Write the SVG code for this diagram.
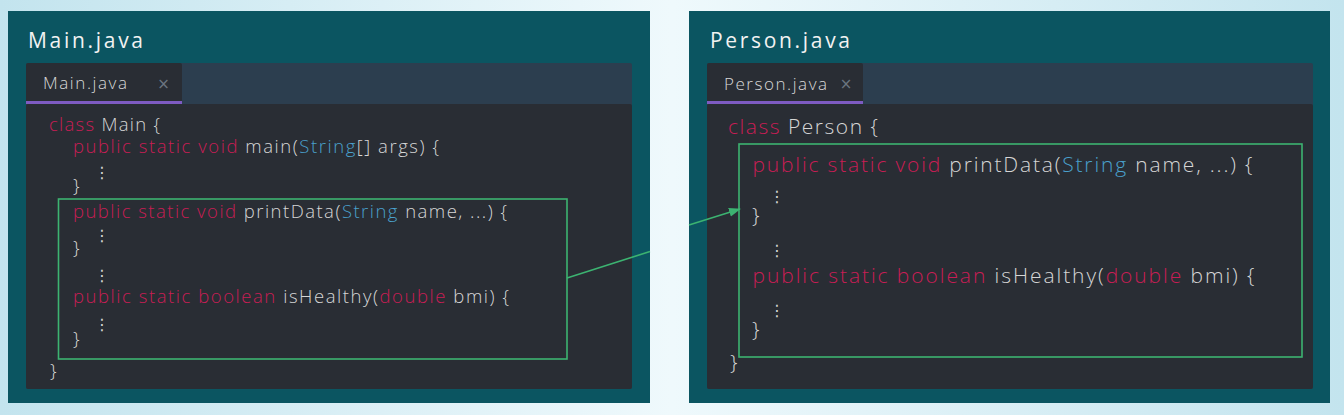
<svg xmlns="http://www.w3.org/2000/svg" width="1344" height="415" viewBox="0 0 1344 415">
<defs>
<linearGradient id="bg" x1="0" y1="0" x2="1" y2="0">
<stop offset="0" stop-color="#c3e4ee"/>
<stop offset="0.5" stop-color="#eff9fc"/>
<stop offset="1" stop-color="#c3e4ee"/>
</linearGradient>
<marker id="arrow" markerWidth="12" markerHeight="10" refX="11" refY="5" orient="auto" markerUnits="userSpaceOnUse">
<path d="M0,0.5 L12,5 L0,9.5 Z" fill="#3cb371"/>
</marker>
<style>
.panel{fill:#0b5561}
.title{font-family:"Open Sans","Liberation Sans",sans-serif;font-size:21px;fill:#f2f2f2}
.bar{fill:#2c3e4f}
.code-bg{fill:#292d34}
.tab{fill:#292d34}
.uline{fill:#7e5bc2}
.tabtxt{font-family:"Open Sans","Liberation Sans",sans-serif;font-size:17px;fill:#d8d8d8;font-weight:300}
.x{font-family:"DejaVu Sans",sans-serif;font-size:15px;fill:#6b7580;text-anchor:middle}
.code{font-family:"Open Sans","Liberation Sans",sans-serif;font-weight:300;fill:#d6d6d6}
.l{font-size:18.5px}
.r{font-size:21px}
.k{fill:#c81d55}
.t{fill:#4aa0cc}
.dots{font-family:"DejaVu Sans",sans-serif;fill:#d6d6d6;text-anchor:middle;font-size:16px}
.box{fill:none;stroke:#3cb371;stroke-width:1.6}
.conn{fill:none;stroke:#3cb371;stroke-width:1.6}
</style>
</defs>
<rect x="0" y="0" width="1344" height="415" fill="url(#bg)"/>

<g id="main-panel">
<rect class="panel" x="8" y="11" width="642" height="392"/>
<text class="title" x="28" y="48" textLength="115">Main.java</text>
<rect class="bar" x="26" y="63" width="606" height="326" rx="2"/>
<rect class="code-bg" x="26" y="104" width="606" height="285" rx="2"/>
<rect class="tab" x="26" y="63" width="156" height="41" rx="2"/>
<rect class="uline" x="26" y="101" width="156" height="3"/>
<text class="tabtxt" x="43" y="89" textLength="84">Main.java</text>
<text class="x" x="163.5" y="89">×</text>
<text class="code l" x="49" y="131" textLength="111"><tspan class="k">class</tspan> Main {</text>
<text class="code l" x="73" y="153" textLength="366"><tspan class="k">public static void</tspan> main(<tspan class="t">String</tspan>[] args) {</text>
<text class="dots" x="102" y="178">⋮</text>
<text class="code l" x="73" y="192">}</text>
<text class="code l" x="73" y="218" textLength="434"><tspan class="k">public static void</tspan> printData(<tspan class="t">String</tspan> name, ...) {</text>
<text class="dots" x="102" y="241">⋮</text>
<text class="code l" x="73" y="254">}</text>
<text class="dots" x="102" y="281">⋮</text>
<text class="code l" x="73" y="303" textLength="436"><tspan class="k">public static boolean</tspan> isHealthy(<tspan class="k">double</tspan> bmi) {</text>
<text class="dots" x="102" y="330">⋮</text>
<text class="code l" x="73" y="345">}</text>
<text class="code l" x="50" y="377">}</text>
<rect class="box" x="58.5" y="199" width="508.5" height="160"/>
</g>

<g id="person-panel">
<rect class="panel" x="689" y="11" width="641" height="392"/>
<text class="title" x="710" y="48" textLength="140">Person.java</text>
<rect class="bar" x="707" y="63" width="606" height="326" rx="2"/>
<rect class="code-bg" x="707" y="104" width="606" height="285" rx="2"/>
<rect class="tab" x="707" y="63" width="156" height="41" rx="2"/>
<rect class="uline" x="707" y="101" width="156" height="3"/>
<text class="tabtxt" x="724" y="90" textLength="103">Person.java</text>
<text class="x" x="846" y="89">×</text>
<text class="code r" x="728" y="134" textLength="150"><tspan class="k">class</tspan> Person {</text>
<text class="code r" x="752.5" y="172" textLength="500"><tspan class="k">public static void</tspan> printData(<tspan class="t">String</tspan> name, ...) {</text>
<text class="dots" x="777" y="202">⋮</text>
<text class="code r" x="752" y="223">}</text>
<text class="dots" x="777" y="256">⋮</text>
<text class="code r" x="752.5" y="283" textLength="502"><tspan class="k">public static boolean</tspan> isHealthy(<tspan class="k">double</tspan> bmi) {</text>
<text class="dots" x="777" y="316">⋮</text>
<text class="code r" x="752" y="337">}</text>
<text class="code r" x="730" y="370">}</text>
<rect class="box" x="739" y="144" width="563" height="213"/>
</g>

<g id="connectors">
<path class="conn" d="M567,278 L650,251.5 M689,225 L740,209" marker-end="url(#arrow)"/>
</g>
</svg>
